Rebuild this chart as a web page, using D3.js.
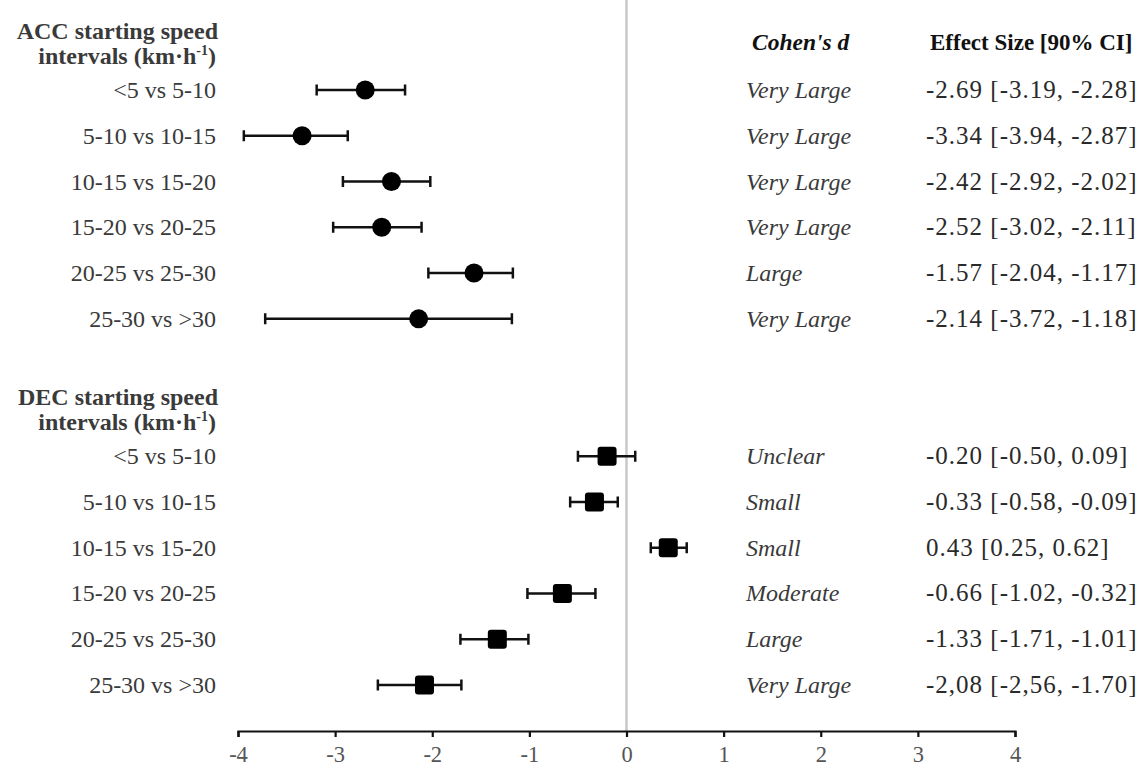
<!DOCTYPE html>
<html>
<head>
<meta charset="utf-8">
<script src="https://cdn.jsdelivr.net/npm/d3@7"></script>
<style>
  body { margin: 0; background: #fff; }
  svg text { font-family: "Liberation Serif", "Times New Roman", serif; }
</style>
</head>
<body>
<svg></svg>
<script>
const W = 1148, H = 769;

// data
const comparisons = ["<5 vs 5-10", "5-10 vs 10-15", "10-15 vs 15-20", "15-20 vs 20-25", "20-25 vs 25-30", "25-30 vs >30"];

const accES = [-2.69, -3.34, -2.42, -2.52, -1.57, -2.14];
const accLo = [-3.19, -3.94, -2.92, -3.02, -2.04, -3.72];
const accHi = [-2.28, -2.87, -2.02, -2.11, -1.17, -1.18];
const accMagnitude = ["Very Large", "Very Large", "Very Large", "Very Large", "Large", "Very Large"];
const accLabels = ["-2.69 [-3.19, -2.28]", "-3.34 [-3.94, -2.87]", "-2.42 [-2.92, -2.02]",
                   "-2.52 [-3.02, -2.11]", "-1.57 [-2.04, -1.17]", "-2.14 [-3.72, -1.18]"];

const decES = [-0.20, -0.33, 0.43, -0.66, -1.33, -2.08];
const decLo = [-0.50, -0.58, 0.25, -1.02, -1.71, -2.56];
const decHi = [0.09, -0.09, 0.62, -0.32, -1.01, -1.70];
const decMagnitude = ["Unclear", "Small", "Small", "Moderate", "Large", "Very Large"];
const decLabels = ["-0.20 [-0.50, 0.09]", "-0.33 [-0.58, -0.09]", "0.43 [0.25, 0.62]",
                   "-0.66 [-1.02, -0.32]", "-1.33 [-1.71, -1.01]", "-2,08 [-2,56, -1.70]"];

const xTicks = [-4, -3, -2, -1, 0, 1, 2, 3, 4];

const svg = d3.select('svg')
    .attr('width', W)
    .attr('height', H);

// scales
const scaleX = d3.scaleLinear().domain([-4, 4]).range([238, 1015]);
// row slots: ACC rows 0-5, DEC header 7, DEC rows 8-13, ACC header -1
const scaleY = d3.scaleLinear().domain([0, 13]).range([90, 685]);
const axisY = 731;

const rows = [];
comparisons.forEach((c, i) => rows.push({
    label: c, es: accES[i], lo: accLo[i], hi: accHi[i], mag: accMagnitude[i], txt: accLabels[i], slot: i, shape: 'circle'
}));
comparisons.forEach((c, i) => rows.push({
    label: c, es: decES[i], lo: decLo[i], hi: decHi[i], mag: decMagnitude[i], txt: decLabels[i], slot: i + 8, shape: 'square'
}));

// zero reference line
svg.append('line')
    .attr('x1', scaleX(0)).attr('x2', scaleX(0))
    .attr('y1', 0).attr('y2', axisY)
    .attr('stroke', '#c8c8c8')
    .attr('stroke-width', 2.5);

// x axis
const xAxis = svg.append('g')
    .attr('transform', `translate(0, ${axisY})`)
    .call(d3.axisBottom(scaleX).tickValues(xTicks).tickSize(6).tickSizeOuter(6).tickPadding(9).tickFormat(d => String(d)));
xAxis.attr('font-family', null);
xAxis.select('.domain').attr('stroke', '#111').attr('stroke-width', 2.2);
xAxis.selectAll('.tick line').attr('stroke', '#111').attr('stroke-width', 2.2);
xAxis.selectAll('.tick text')
    .attr('font-size', 22.5)
    .attr('fill', '#555');

// error bars
const g = svg.append('g');
const capH = 11;
g.selectAll('.ci')
    .data(rows)
    .enter()
    .append('path')
    .attr('class', 'ci')
    .attr('fill', 'none')
    .attr('stroke', '#111')
    .attr('stroke-width', 2.5)
    .attr('d', d => {
        const y = scaleY(d.slot), x0 = scaleX(d.lo), x1 = scaleX(d.hi);
        return `M${x0},${y - capH / 2}V${y + capH / 2}M${x0},${y}H${x1}M${x1},${y - capH / 2}V${y + capH / 2}`;
    });

// markers
g.selectAll('.dot')
    .data(rows.filter(d => d.shape === 'circle'))
    .enter()
    .append('circle')
    .attr('cx', d => scaleX(d.es))
    .attr('cy', d => scaleY(d.slot))
    .attr('r', 9.5)
    .attr('fill', '#000');

const sq = 19;
g.selectAll('.sq')
    .data(rows.filter(d => d.shape === 'square'))
    .enter()
    .append('rect')
    .attr('x', d => scaleX(d.es) - sq / 2)
    .attr('y', d => scaleY(d.slot) - sq / 2)
    .attr('width', sq).attr('height', sq)
    .attr('rx', 3)
    .attr('fill', '#000');

// row labels
const labelX = 216;
svg.selectAll('.rowlab')
    .data(rows)
    .enter()
    .append('text')
    .attr('x', labelX)
    .attr('y', d => scaleY(d.slot) + 8)
    .attr('text-anchor', 'end')
    .attr('font-size', 24)
    .attr('fill', '#3a3a3a')
    .text(d => d.label);

// group headers
function header(prefix, slot) {
    const y = scaleY(slot);
    svg.append('text')
        .attr('x', labelX + 2).attr('y', y - 5)
        .attr('text-anchor', 'end')
        .attr('font-size', 24).attr('font-weight', 'bold').attr('fill', '#3a3a3a')
        .text(prefix + ' starting speed');
    const t = svg.append('text')
        .attr('x', labelX).attr('y', y + 20)
        .attr('text-anchor', 'end')
        .attr('font-size', 24).attr('font-weight', 'bold').attr('fill', '#3a3a3a');
    t.append('tspan').text('intervals (km·h');
    t.append('tspan').attr('dy', -9).attr('font-size', 14).text('-1');
    t.append('tspan').attr('dy', 9).text(')');
}
header('ACC', -1);
header('DEC', 7);

// right-hand columns
const magX = 746, esX = 926;
svg.append('text')
    .attr('x', 752).attr('y', 50)
    .attr('font-size', 23.5).attr('font-weight', 'bold').attr('font-style', 'italic').attr('fill', '#111')
    .text("Cohen's d");
svg.append('text')
    .attr('x', 930).attr('y', 50)
    .attr('font-size', 23).attr('font-weight', 'bold').attr('fill', '#111')
    .text('Effect Size [90% CI]');

svg.selectAll('.mag')
    .data(rows)
    .enter()
    .append('text')
    .attr('x', magX)
    .attr('y', d => scaleY(d.slot) + 8)
    .attr('font-size', 24).attr('font-style', 'italic').attr('fill', '#3a3a3a')
    .text(d => d.mag);

svg.selectAll('.est')
    .data(rows)
    .enter()
    .append('text')
    .attr('x', esX)
    .attr('y', d => scaleY(d.slot) + 8)
    .attr('font-size', 25)
    .attr('letter-spacing', 1)
    .attr('fill', '#2a2a2a')
    .text(d => d.txt);
</script>
</body>
</html>
